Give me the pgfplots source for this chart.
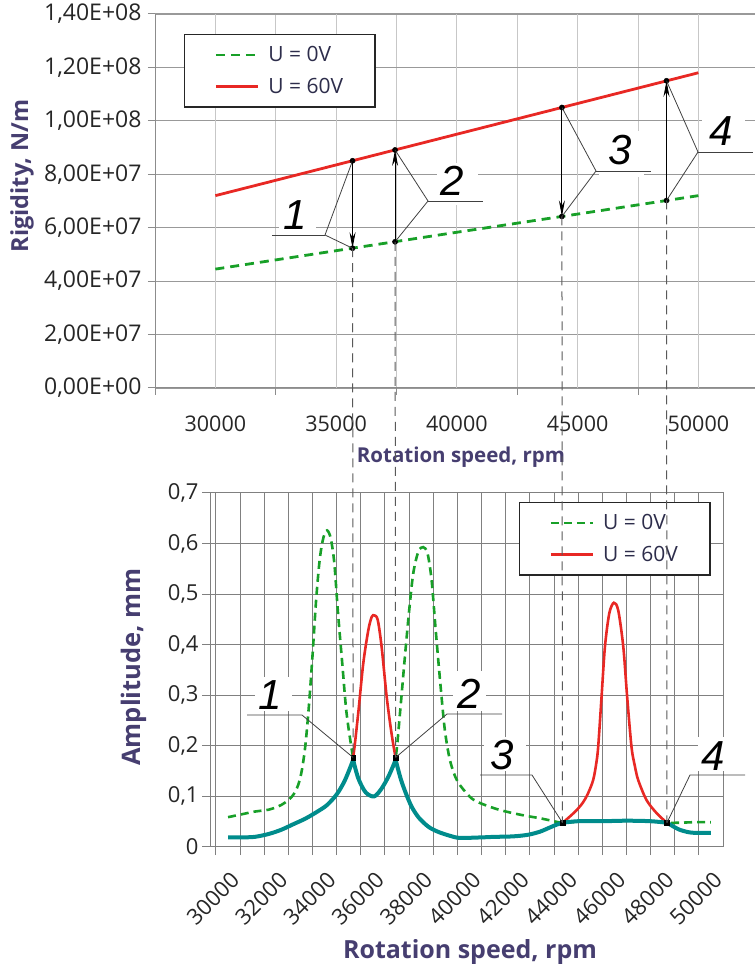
\documentclass[border=0pt]{standalone}
\usepackage{fontspec}
\setmainfont{Open Sans}
\newfontfamily\numfont{Liberation Sans}
\usepackage{pgfplots}
\pgfplotsset{compat=1.18}
\usetikzlibrary{arrows.meta}

\definecolor{gline}{RGB}{24,160,40}
\definecolor{rline}{RGB}{232,40,36}
\definecolor{tline}{RGB}{0,140,140}
\definecolor{axlab}{RGB}{70,62,112}
\definecolor{legtxt}{RGB}{45,45,75}
\definecolor{ticktxt}{RGB}{38,38,38}

\newcommand{\fs}[1]{\fontsize{#1}{#1}\selectfont}

\begin{document}
\begin{tikzpicture}[x=1pt,y=1pt]
\useasboundingbox (0,0) rectangle (755,969);

%----------------- rigidity -----------------
\begin{axis}[
  at={(155pt,581pt)}, anchor=south west,
  scale only axis, width=600pt, height=374pt,
  xmin=27500, xmax=52345, ymin=0, ymax=1.4e8,
  axis lines*=left,
  axis line style={draw=black!45, line width=1pt},
  scaled ticks=false,
  xtick={27500,32500,37500,42500,47500}, xticklabels={},
  extra x ticks={30000,35000,40000,45000,50000},
  extra x tick labels={30000,35000,40000,45000,50000},
  extra x tick style={major tick length=0pt},
  ytick={0,2e7,4e7,6e7,8e7,1e8,1.2e8,1.4e8},
  yticklabels={{0,00E+00},{2,00E+07},{4,00E+07},{6,00E+07},{8,00E+07},{1,00E+08},{1,20E+08},{1,40E+08}},
  tick align=outside, major tick length=7pt,
  tick style={draw=black!45, line width=1pt},
  grid=major,
  x grid style={draw=black!22, line width=1pt},
  y grid style={draw=black!40, line width=1.1pt},
  xticklabel style={font=\fs{21.5}, color=ticktxt, yshift=-24pt},
  yticklabel style={font=\fs{23}, color=ticktxt, xshift=-3pt},
  xlabel={Rotation speed, rpm},
  xlabel style={at={(rel axis cs:0.51,-0.1845)}, anchor=center, font=\bfseries\fs{20.5}, color=axlab},
  ylabel={Rigidity, N/m},
  ylabel style={at={(rel axis cs:-0.2217,0.567)}, anchor=center, font=\bfseries\fs{23.5}, color=axlab},
  legend image code/.code={\draw[#1, line width=2.8pt] (0pt,0pt) -- (42pt,0pt);},
  legend style={at={(0.0483,0.9465)}, anchor=north west, draw=black!85, line width=1.2pt,
    fill=white, font=\fs{21}, text=legtxt, inner xsep=30pt, inner ysep=10pt, row sep=11pt,
    /tikz/every odd column/.append style={column sep=7pt}},
  legend cell align=left,
  clip=false,
]
\addplot[gline, line width=2.8pt, dash pattern=on 9pt off 6pt] coordinates {
  (30000,4.45e7) (35000,5.14e7) (40000,5.83e7) (45000,6.51e7) (50000,7.2e7)
};
\addlegendentry{U = 0V}
\addplot[rline, line width=2.8pt] coordinates {
  (30000,7.2e7) (35000,8.35e7) (40000,9.5e7) (45000,1.065e8) (50000,1.18e8)
};
\addlegendentry{U = 60V}
% operating points
\addplot[only marks, mark=*, mark size=2.6pt, black, forget plot] coordinates {
  (35680,5.231e7) (37440,5.473e7) (44350,6.423e7) (48680,7.019e7)
  (35680,8.506e7) (37440,8.911e7) (44350,1.050e8) (48680,1.150e8)
};
\coordinate (g1) at (axis cs:35680,5.231e7);
\coordinate (g2) at (axis cs:37440,5.473e7);
\coordinate (g3) at (axis cs:44350,6.423e7);
\coordinate (g4) at (axis cs:48680,7.019e7);
\coordinate (r1) at (axis cs:35680,8.506e7);
\coordinate (r2) at (axis cs:37440,8.911e7);
\coordinate (r3) at (axis cs:44350,1.050e8);
\coordinate (r4) at (axis cs:48680,1.150e8);
\end{axis}

%----------------- amplitude -----------------
\begin{axis}[
  at={(210pt,122pt)}, anchor=south west,
  scale only axis, width=513pt, height=354pt,
  xmin=29752, xmax=51000, ymin=0, ymax=0.7,
  axis line style={draw=black!50, line width=1pt},
  scaled ticks=false,
  tick pos=left,
  xtick={30000,32000,...,50000},
  xticklabels={30000,32000,34000,36000,38000,40000,42000,44000,46000,48000,50000},
  minor xtick={31000,33000,...,49000},
  ytick={0,0.1,...,0.7},
  yticklabels={0,{0,1},{0,2},{0,3},{0,4},{0,5},{0,6},{0,7}},
  tick align=outside, major tick length=8pt, minor tick length=8pt,
  tick style={draw=black!50, line width=1pt},
  grid=both,
  major grid style={draw=black!50, line width=1pt},
  minor grid style={draw=black!50, line width=1pt},
  tick label style={font=\fs{22}, color=ticktxt},
  xticklabel style={rotate=45, anchor=north east, xshift=2pt, yshift=-17pt},
  yticklabel style={xshift=0pt},
  xlabel={Rotation speed, rpm},
  xlabel style={at={(rel axis cs:0.5068,-0.2966)}, anchor=center, font=\bfseries\fs{25}, color=axlab},
  ylabel={Amplitude, mm},
  ylabel style={at={(rel axis cs:-0.1481,0.5085)}, anchor=center, font=\bfseries\fs{25.5}, color=axlab},
  legend image code/.code={\draw[#1, line width=2.6pt] (0pt,0pt) -- (42pt,0pt);},
  legend style={at={(0.6023,0.9746)}, anchor=north west, draw=black!85, line width=1.2pt,
    fill=white, font=\fs{21}, text=legtxt, inner xsep=30pt, inner ysep=10pt, row sep=11pt,
    /tikz/every odd column/.append style={column sep=7pt}},
  legend cell align=left,
  clip=false,
]
\addplot[gline, line width=2.6pt, dash pattern=on 8pt off 5pt, smooth, tension=0.5] coordinates {
  (30500,0.059) (31000,0.064) (31600,0.070) (32200,0.074) (32700,0.083) (33000,0.093)
  (33200,0.103) (33400,0.122) (33550,0.150) (33700,0.200) (33850,0.280) (34000,0.380)
  (34150,0.490) (34300,0.570) (34450,0.612) (34600,0.626) (34750,0.611) (34900,0.562)
  (35050,0.465) (35230,0.363) (35410,0.264) (35680,0.177) (35900,0.135) (36200,0.108)
  (36550,0.100) (36850,0.115) (37150,0.140) (37440,0.177) (37620,0.264) (37800,0.363)
  (37990,0.462) (38170,0.541) (38380,0.584) (38580,0.593) (38760,0.581) (38930,0.528)
  (39100,0.429) (39280,0.330) (39480,0.231) (39700,0.170) (40000,0.130) (40500,0.100)
  (40800,0.090) (41200,0.082) (41700,0.074) (42200,0.068) (42800,0.062) (43400,0.057)
  (43900,0.052) (44350,0.048) (45000,0.050) (46000,0.051) (47000,0.052) (48000,0.051)
  (48680,0.048) (49200,0.048) (49800,0.049) (50500,0.049)
};
\addlegendentry{U = 0V}
\addplot[rline, line width=2.6pt, smooth, tension=0.5] coordinates {
  (30500,0.019) (31000,0.019) (31600,0.020) (32200,0.026) (32700,0.034) (33200,0.045)
  (33700,0.056) (34200,0.070) (34600,0.083) (35000,0.104) (35300,0.128) (35500,0.150)
  (35680,0.177) (35890,0.264) (36100,0.363) (36310,0.429) (36450,0.455) (36560,0.458)
  (36700,0.449) (36860,0.396) (37070,0.297) (37270,0.225) (37440,0.177) (37650,0.135)
  (37850,0.108) (38100,0.080) (38400,0.058) (38800,0.040) (39200,0.030) (39700,0.022)
  (40100,0.018) (41000,0.019) (41500,0.020) (42300,0.021) (42900,0.024) (43400,0.030)
  (43800,0.038) (44100,0.044) (44350,0.048) (44650,0.060) (44940,0.073) (45200,0.088)
  (45400,0.105) (45620,0.132) (45750,0.165) (45830,0.198) (45970,0.297) (46110,0.396)
  (46290,0.462) (46480,0.483) (46660,0.468) (46870,0.396) (47030,0.297) (47210,0.198)
  (47350,0.160) (47490,0.132) (47830,0.093) (48250,0.067) (48680,0.048) (49000,0.039)
  (49210,0.034) (49500,0.030) (49800,0.028) (50500,0.028)
};
\addlegendentry{U = 60V}
% lower envelope of both responses
\addplot[tline, line width=4pt, smooth, tension=0.5, forget plot] coordinates {
  (30500,0.019) (31000,0.019) (31600,0.020) (32200,0.026) (32700,0.034) (33200,0.045)
  (33700,0.056) (34200,0.070) (34600,0.083) (35000,0.104) (35300,0.128) (35500,0.150)
  (35680,0.172)
};
\addplot[tline, line width=4pt, smooth, tension=0.5, forget plot] coordinates {
  (35680,0.172) (35900,0.135) (36200,0.108) (36550,0.100) (36850,0.115) (37150,0.140)
  (37440,0.172)
};
\addplot[tline, line width=4pt, smooth, tension=0.5, forget plot] coordinates {
  (37440,0.172) (37650,0.135) (37850,0.108) (38100,0.080) (38400,0.058) (38800,0.040)
  (39200,0.030) (39700,0.022) (40100,0.018) (41000,0.019) (41500,0.020) (42300,0.021)
  (42900,0.024) (43400,0.030) (43800,0.038) (44100,0.044) (44350,0.048)
};
\addplot[tline, line width=4pt, smooth, tension=0.5, forget plot] coordinates {
  (44350,0.048) (45000,0.051) (46000,0.051) (47000,0.052) (48000,0.051) (48680,0.048)
};
\addplot[tline, line width=4pt, smooth, tension=0.5, forget plot] coordinates {
  (48680,0.048) (49000,0.039) (49210,0.034) (49500,0.030) (49800,0.028) (50500,0.028)
};
\addplot[only marks, mark=square*, mark size=2.4pt, black, forget plot] coordinates {
  (35680,0.177) (37440,0.177) (44350,0.048) (48680,0.048)
};
\coordinate (b1) at (axis cs:35680,0.177);
\coordinate (b2) at (axis cs:37440,0.177);
\coordinate (b3) at (axis cs:44350,0.048);
\coordinate (b4) at (axis cs:48680,0.048);
\end{axis}

%----------------- annotations -----------------
% white patches behind the numbers
\fill[white] (279,738) rectangle (316,772);
\fill[white] (437,764) rectangle (478,806);
\fill[white] (599,792) rectangle (644,838);
\fill[white] (702,820) rectangle (745,860);
\fill[white] (255,258) rectangle (292,292);
\fill[white] (453,258) rectangle (486,298);
\fill[white] (484,198) rectangle (526,232);
\fill[white] (698,198) rectangle (740,232);

\begin{scope}[black!75, line width=0.8pt]
\draw (r1) -- (325,734) -- (g1); \draw (325,734) -- (272,734);
\draw (r2) -- (428,768) -- (g2); \draw (428,768) -- (483,768);
\draw (r3) -- (596,798) -- (g3); \draw (596,798) -- (651,798);
\draw (r4) -- (698,817) -- (g4); \draw (698,817) -- (753,817);
\draw (b1) -- (302,254) -- (247,254);
\draw (b2) -- (447,255) -- (502,255);
\draw (b3) -- (532,194) -- (480,194);
\draw (b4) -- (690,194) -- (745,194);
\end{scope}

\begin{scope}[black, line width=0.9pt]
\draw[-{Stealth[length=16pt,width=6pt]}] (r1) -- (g1);
\draw[-{Stealth[length=16pt,width=6pt]}] (g2) -- (r2);
\draw[-{Stealth[length=16pt,width=6pt]}] (r3) -- (g3);
\draw[-{Stealth[length=16pt,width=6pt]}] (g4) -- (r4);
\end{scope}

\begin{scope}[black!65, line width=1pt, dash pattern=on 9pt off 6pt]
\draw (g1) -- (b1);
\draw (g2) -- (b2);
\draw (g3) -- (b3);
\draw (g4) -- (b4);
\end{scope}

\begin{scope}[font=\numfont\itshape\fs{42}, inner sep=0pt]
\node at (295,754) {1};
\node at (452,788) {2};
\node at (620,819) {3};
\node at (721,838) {4};
\node at (270,274) {1};
\node at (469,275) {2};
\node at (502,214) {3};
\node at (713,213) {4};
\end{scope}
\end{tikzpicture}
\end{document}
